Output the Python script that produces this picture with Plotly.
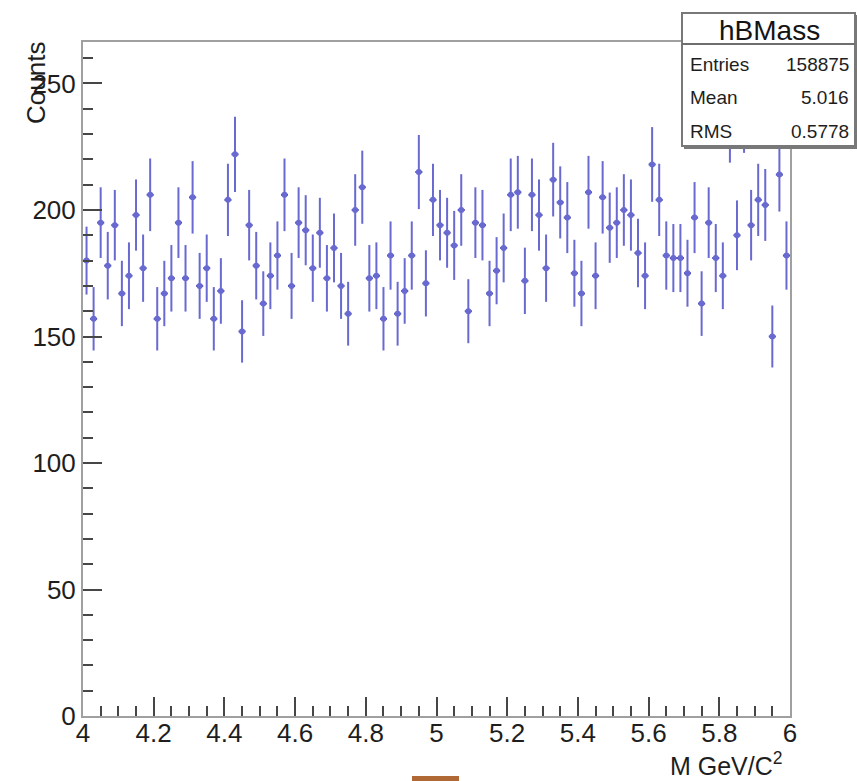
import numpy as np
import plotly.graph_objects as go

# histogram hBMass: 100 bins between 4 and 6 GeV/c^2
x_lo, x_hi, n_bins = 4.0, 6.0, 100
counts = [180, 157, 195, 178, 194, 167, 174, 198, 177, 206,
          157, 167, 173, 195, 173, 205, 170, 177, 157, 168,
          204, 222, 152, 194, 178, 163, 174, 182, 206, 170,
          195, 192, 177, 191, 173, 185, 170, 159, 200, 209,
          173, 174, 157, 182, 159, 168, 182, 215, 171, 204,
          194, 191, 186, 200, 160, 195, 194, 167, 176, 185,
          206, 207, 172, 206, 198, 177, 212, 203, 197, 175,
          167, 207, 174, 205, 193, 195, 200, 198, 183, 174,
          218, 204, 182, 181, 181, 175, 197, 163, 195, 181,
          174, 234, 190, 238, 194, 204, 202, 150, 214, 182]
stats_labels = ["Entries", "Mean", "RMS"]
stats_values = ["158875", "5.016", "0.5778"]
hist_name = "hBMass"

edges = np.linspace(x_lo, x_hi, n_bins + 1)
centers = 0.5 * (edges[:-1] + edges[1:])
half_width = 0.5 * (x_hi - x_lo) / n_bins

FONT = "Liberation Sans, Arial, sans-serif"
col = "rgb(105,105,210)"

fig = go.Figure()
fig.add_trace(go.Scatter(
    x=centers, y=counts, mode="markers",
    marker=dict(size=0, color=col),
    error_y=dict(type="sqrt", width=0, thickness=2, color=col),
    error_x=dict(type="constant", value=half_width, width=0, thickness=2, color="rgb(70,70,175)"),
    showlegend=False, hoverinfo="x+y",
))

axis_common = dict(
    showline=True, linecolor="rgb(160,160,160)", linewidth=2, mirror=True,
    showgrid=False, zeroline=False, ticks="inside", tickcolor="rgb(70,70,70)",
    tickwidth=2, ticklen=19,
    tickfont=dict(family=FONT, size=26, color="rgb(30,30,30)"),
)

fig.update_layout(
    width=857, height=781,
    margin=dict(l=83, r=67, t=42, b=65),
    paper_bgcolor="white", plot_bgcolor="white",
    font=dict(family=FONT, color="rgb(30,30,30)"),
    xaxis=dict(range=[x_lo, x_hi], dtick=0.2, tick0=4, ticklabelstandoff=-7,
               minor=dict(dtick=0.05, ticks="inside", ticklen=10, tickcolor="rgb(70,70,70)", tickwidth=2),
               **axis_common),
    yaxis=dict(range=[0, 266.4], dtick=50, tick0=0,
               minor=dict(dtick=10, ticks="inside", ticklen=10, tickcolor="rgb(70,70,70)", tickwidth=2),
               **axis_common),
)

def px_x(p):
    return (p - 83) / 707.0

def px_y(p):
    return (716 - p) / 674.0

# stats box (shadow, box, separator)
fig.add_shape(type="rect", xref="paper", yref="paper",
              x0=px_x(684), x1=px_x(857), y0=px_y(15), y1=px_y(149),
              fillcolor="rgb(120,120,120)", line=dict(width=0), layer="above")
fig.add_shape(type="rect", xref="paper", yref="paper",
              x0=px_x(682), x1=px_x(855), y0=px_y(13), y1=px_y(146),
              fillcolor="white", line=dict(color="rgb(120,120,120)", width=2), layer="above")
fig.add_shape(type="line", xref="paper", yref="paper",
              x0=px_x(682), x1=px_x(855), y0=px_y(44), y1=px_y(44),
              line=dict(color="rgb(110,110,110)", width=2), layer="above")

fig.add_annotation(xref="paper", yref="paper", x=px_x(769), y=px_y(30),
                   text=hist_name, showarrow=False, xanchor="center", yanchor="middle",
                   font=dict(family=FONT, size=28, color="rgb(20,20,20)"))
row_y = [64, 98, 132]
for lab, val, yy in zip(stats_labels, stats_values, row_y):
    fig.add_annotation(xref="paper", yref="paper", x=px_x(688), y=px_y(yy),
                       text=lab, showarrow=False, xanchor="left", yanchor="middle",
                       font=dict(family=FONT, size=19, color="rgb(30,30,30)"))
    fig.add_annotation(xref="paper", yref="paper", x=px_x(851), y=px_y(yy),
                       text=val, showarrow=False, xanchor="right", yanchor="middle",
                       font=dict(family=FONT, size=19, color="rgb(30,30,30)"))

# axis titles (ROOT style: at the axis ends)
fig.add_annotation(xref="paper", yref="paper", x=px_x(785), y=px_y(764),
                   text="M GeV/C<sup>2</sup>", showarrow=False, xanchor="right", yanchor="middle",
                   font=dict(family=FONT, size=25, color="rgb(30,30,30)"))
fig.add_annotation(xref="paper", yref="paper", x=px_x(36), y=px_y(40),
                   text="Counts", showarrow=False, textangle=-90, xanchor="center", yanchor="top",
                   font=dict(family=FONT, size=26, color="rgb(30,30,30)"))

# small brown strip at the bottom edge of the picture
fig.add_shape(type="rect", xref="paper", yref="paper",
              x0=px_x(412), x1=px_x(459), y0=px_y(776), y1=px_y(781),
              fillcolor="rgb(176,104,52)", line=dict(width=0), layer="above")

fig.write_html("out.html", config={"displayModeBar": False},
               post_script="document.body.style.margin='0';document.body.style.overflow='hidden';")
